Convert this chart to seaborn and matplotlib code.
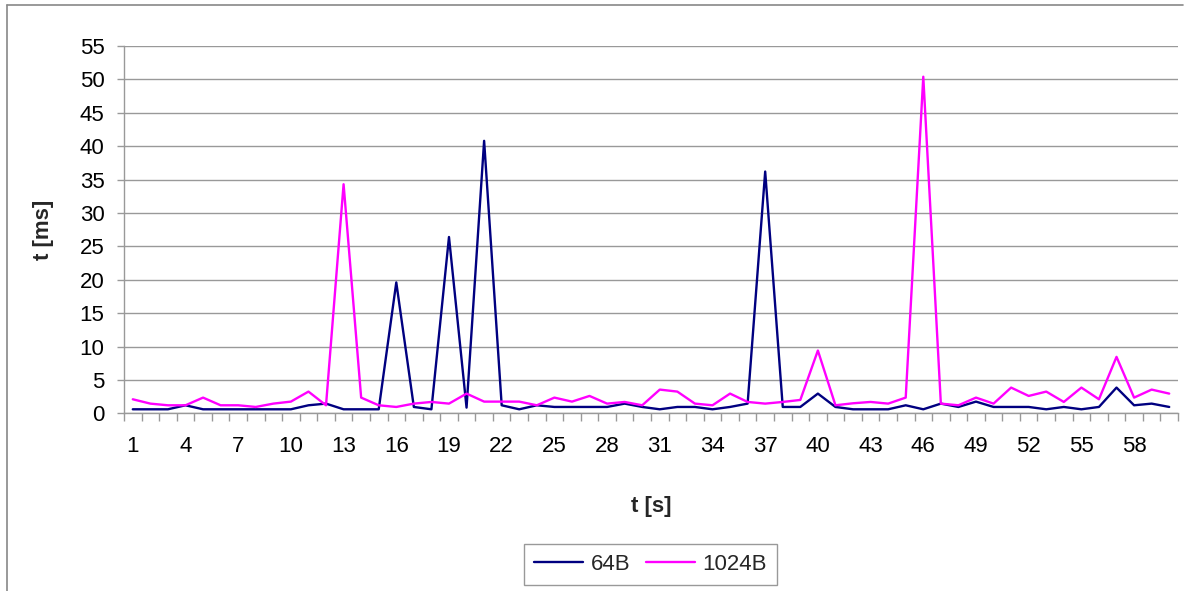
import matplotlib
matplotlib.use("Agg")
import matplotlib.pyplot as plt
from matplotlib.lines import Line2D
import seaborn as sns
import pandas as pd
import numpy as np

# ---- data ----
t_s = list(range(1, 61))
v_64B = [0.6, 0.6, 0.6, 1.2, 0.6, 0.6, 0.6, 0.6, 0.6, 0.6,
         1.2, 1.45, 0.6, 0.6, 0.6, 19.6, 0.95, 0.6, 26.4, 0.85,
         40.8, 1.2, 0.6, 1.2, 0.95, 0.95, 0.95, 0.95, 1.45, 0.95,
         0.6, 0.95, 0.95, 0.6, 0.95, 1.45, 36.2, 0.95, 0.95, 2.95,
         0.95, 0.6, 0.6, 0.6, 1.2, 0.6, 1.45, 0.95, 1.75, 0.95,
         0.95, 0.95, 0.6, 0.95, 0.6, 0.95, 3.85, 1.2, 1.45, 0.95]
v_1024B = [2.1, 1.45, 1.2, 1.2, 2.35, 1.2, 1.2, 0.95, 1.45, 1.75,
           3.25, 1.2, 34.3, 2.35, 1.2, 0.95, 1.45, 1.7, 1.45, 2.95,
           1.75, 1.75, 1.75, 1.2, 2.35, 1.75, 2.6, 1.45, 1.7, 1.2,
           3.55, 3.25, 1.45, 1.2, 2.95, 1.7, 1.45, 1.7, 2.0, 9.4,
           1.2, 1.5, 1.7, 1.45, 2.35, 50.4, 1.45, 1.2, 2.35, 1.45,
           3.85, 2.6, 3.25, 1.7, 3.85, 2.1, 8.45, 2.35, 3.55, 2.95]
series_names = ["64B", "1024B"]
series_colors = ["#000080", "#FF00FF"]
x_tick_labels = list(range(1, 61, 3))
y_ticks = list(range(0, 56, 5))

df = pd.DataFrame({
    "t": t_s * 2,
    "v": v_64B + v_1024B,
    "series": [series_names[0]] * len(t_s) + [series_names[1]] * len(t_s),
})

sns.set_style("white")
plt.rcParams["font.family"] = ["Liberation Sans", "DejaVu Sans"]

W, H = 1192, 591
FS = 16
fig = plt.figure(figsize=(W / 100, H / 100), dpi=100)
ax = fig.add_axes([124 / W, 1 - 413.3 / H, (1178 - 124) / W, (413.3 - 46) / H])

sns.lineplot(data=df, x="t", y="v", hue="series", hue_order=series_names,
             palette=series_colors, linewidth=1.7, ax=ax, legend=False,
             estimator=None, sort=False)

ax.set_xlim(0.5, 60.5)
ax.set_ylim(0, 55)
ax.set_yticks(y_ticks)
ax.set_yticklabels([str(v) for v in y_ticks])
ax.set_xticks(x_tick_labels)
ax.set_xticklabels([str(v) for v in x_tick_labels])
ax.set_xticks(np.arange(0.5, 61, 1), minor=True)

grid_c = "#999999"
ax.yaxis.grid(True, color=grid_c, linewidth=1.0)
ax.xaxis.grid(False)
ax.set_axisbelow(True)
for s in ["top", "right"]:
    ax.spines[s].set_visible(False)
for s in ["left", "bottom"]:
    ax.spines[s].set_visible(True)
    ax.spines[s].set_color(grid_c)
    ax.spines[s].set_linewidth(1.0)

ax.tick_params(axis="y", which="major", length=5, width=1, color=grid_c,
               labelsize=FS, pad=9, labelcolor="black", left=True)
ax.tick_params(axis="x", which="major", length=0, labelsize=FS, pad=16,
               labelcolor="black", bottom=True)
ax.tick_params(axis="x", which="minor", length=6, width=1, color=grid_c,
               bottom=True)

ax.set_xlabel("t [s]", fontsize=FS, fontweight="bold")
ax.set_ylabel("t [ms]", fontsize=FS, fontweight="bold")
ax.xaxis.set_label_coords(0.5, -0.225)
ax.yaxis.set_label_coords(-0.066, 0.5)

handles = [Line2D([0], [0], color=c, linewidth=1.7) for c in series_colors]
leg = fig.legend(handles, series_names, loc="center",
                 bbox_to_anchor=(650.5 / W, 1 - 564.5 / H), ncol=2,
                 fontsize=FS, frameon=True, fancybox=False, framealpha=1,
                 edgecolor="#999999", handlelength=2.2, handletextpad=0.35,
                 columnspacing=0.7, borderpad=0.45)
leg.get_frame().set_linewidth(1.0)

# outer chart frame (left and top edges visible)
fig.add_artist(Line2D([7 / W, 7 / W], [0, 1 - 5 / H], transform=fig.transFigure,
                      color="#888888", linewidth=1.2))
fig.add_artist(Line2D([7 / W, 1183 / W], [1 - 5 / H, 1 - 5 / H],
                      transform=fig.transFigure, color="#888888", linewidth=1.2))

fig.savefig("out.png", dpi=100, facecolor="white")
